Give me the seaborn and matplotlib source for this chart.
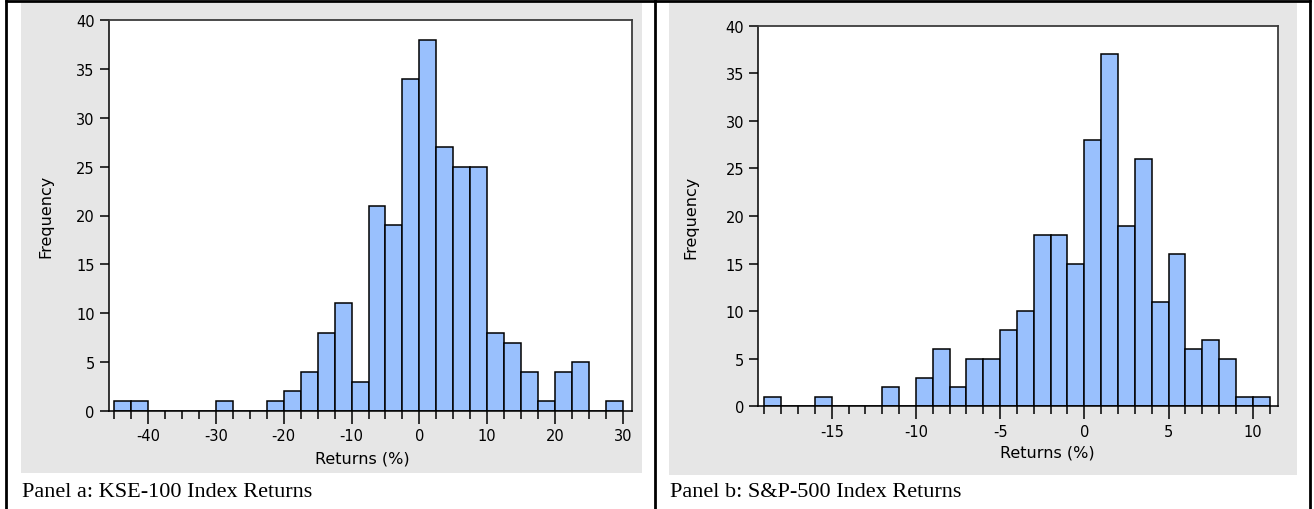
import numpy as np
import pandas as pd
import matplotlib
matplotlib.use("Agg")
import matplotlib.pyplot as plt
from matplotlib.patches import Rectangle
from matplotlib.lines import Line2D
import seaborn as sns

# --- Histogram data (bin edges + counts) ---
kse_edges = np.arange(-45, 30.1, 2.5)
kse_counts = [1, 1, 0, 0, 0, 0, 1, 0, 0, 1, 2, 4, 8, 11, 3,
              21, 19, 34, 38, 27, 25, 25, 8, 7, 4, 1, 4, 5, 0, 1]
kse_ticks = [-40, -30, -20, -10, 0, 10, 20, 30]

spx_edges = np.arange(-19, 11.1, 1)
spx_counts = [1, 0, 0, 1, 0, 0, 0, 2, 0, 3, 6, 2, 5, 5, 8,
              10, 18, 18, 15, 28, 37, 19, 26, 11, 16, 6, 7, 5, 1, 1]
spx_ticks = [-15, -10, -5, 0, 5, 10]

y_ticks = [0, 5, 10, 15, 20, 25, 30, 35, 40]
captions = ["Panel a: KSE-100 Index Returns", "Panel b: S&P-500 Index Returns"]

sns.set_style("ticks")
plt.rcParams["font.family"] = ["DejaVu Sans"]
plt.rcParams["axes.unicode_minus"] = False
plt.rcParams["text.color"] = "black"
plt.rcParams["axes.labelcolor"] = "black"
plt.rcParams["xtick.color"] = "black"
plt.rcParams["ytick.color"] = "black"

W, H = 1314, 510
BAR = "#99c0fd"
GREY = "#e6e6e6"


def px_box(x0, y0, x1, y1):
    # pixel box (top-left origin) -> figure fraction [l, b, w, h]
    return [x0 / W, 1 - y1 / H, (x1 - x0) / W, (y1 - y0) / H]


fig = plt.figure(figsize=(W / 100, H / 100), dpi=100)

# grey panel backgrounds
for x0, y0, x1, y1 in [(21, 4, 642, 474), (669, 4, 1297, 476)]:
    l, b, w, h = px_box(x0, y0, x1, y1)
    fig.add_artist(Rectangle((l, b), w, h, transform=fig.transFigure,
                             facecolor=GREY, edgecolor="none", zorder=-1))

# table borders
for xp in [5.5, 655, 1309.5]:
    fig.add_artist(Line2D([xp / W, xp / W], [0, 1], transform=fig.transFigure,
                          color="black", lw=2))
fig.add_artist(Line2D([5.5 / W, 1309.5 / W], [1 - 1.5 / H, 1 - 1.5 / H],
                      transform=fig.transFigure, color="black", lw=2))


def draw_panel(box, edges, counts, ticks, xlim, ylab_x, xlab_x):
    ax = fig.add_axes(px_box(*box))
    df = pd.DataFrame({"ret": (edges[:-1] + edges[1:]) / 2, "n": counts})
    sns.histplot(data=df, x="ret", weights="n", bins=list(edges), color=BAR,
                 edgecolor="black", linewidth=1.1, alpha=1, ax=ax)
    ax.set_facecolor("white")
    ax.set_xlim(*xlim)
    ax.set_ylim(0, 40)
    ax.set_xticks(ticks)
    ax.set_xticks(edges, minor=True)
    ax.set_yticks(y_ticks)
    ax.tick_params(axis="x", which="major", length=9, width=1.1, pad=3.5, labelsize=10.5)
    ax.tick_params(axis="x", which="minor", length=5.8, width=1.1)
    ax.tick_params(axis="y", which="major", length=6.5, width=1.1, pad=3.5, labelsize=10.5)
    for s in ["left", "bottom"]:
        ax.spines[s].set_color("black")
        ax.spines[s].set_linewidth(1.1)
    for s in ["top", "right"]:
        ax.spines[s].set_visible(True)
        ax.spines[s].set_color("#3c3c3c")
        ax.spines[s].set_linewidth(1.3)
    ax.set_ylabel("Frequency", fontsize=11.5)
    ax.yaxis.set_label_coords(ylab_x, 0.5)
    ax.set_xlabel("Returns (%)", fontsize=11.5)
    ax.xaxis.set_label_coords(xlab_x, -0.1)
    return ax


ax1 = draw_panel((108.7, 21, 631.7, 412), kse_edges, kse_counts, kse_ticks,
                 (-45.8, 31.3), -0.106, 0.485)
ax2 = draw_panel((758.3, 26.7, 1278.3, 407.3), spx_edges, spx_counts, spx_ticks,
                 (-19.36, 11.52), -0.115, 0.555)

# captions under each panel
for xp, txt in zip([21.7, 670], captions):
    fig.text(xp / W, 1 - 496.7 / H, txt, family="Liberation Serif",
             fontsize=16, va="baseline", ha="left", color="black")

plt.savefig("out.png", dpi=100)
